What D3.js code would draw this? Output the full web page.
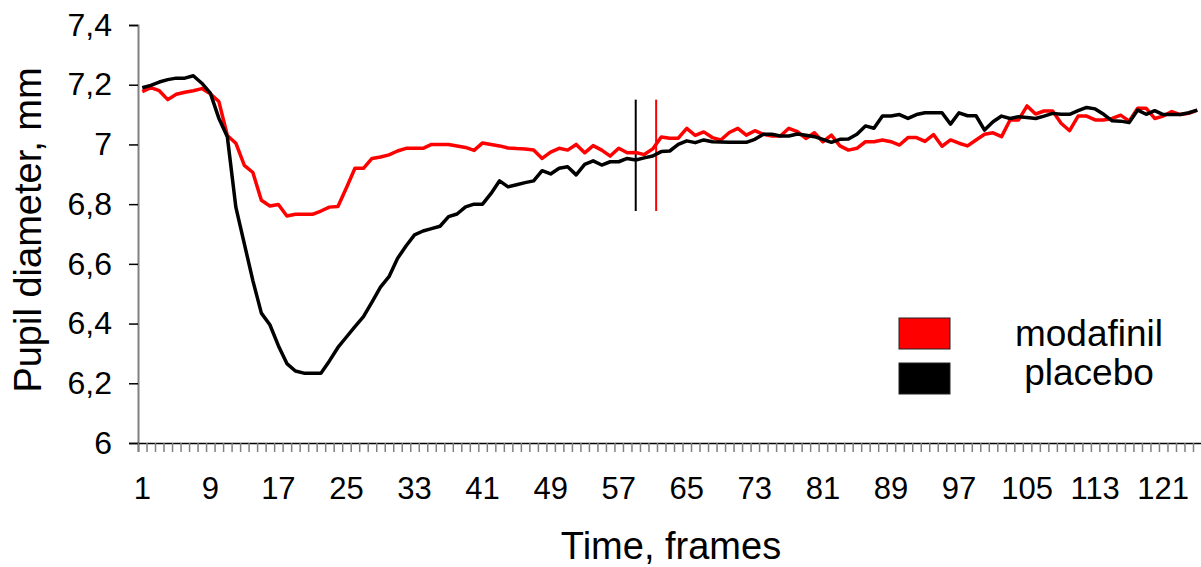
<!DOCTYPE html>
<html>
<head>
<meta charset="utf-8">
<script src="https://cdn.jsdelivr.net/npm/d3@7"></script>
<style>
    body { margin: 0; background: #fff; }
    svg { display: block; font-family: "Liberation Sans", Arial, sans-serif; }
</style>
</head>
<body>
<div id="chart"></div>
<script>
// Datos: diámetro pupilar por frame (1..125)
var frames = d3.range(1, 126);

var modafinil = [
    7.177, 7.19, 7.18, 7.15, 7.168, 7.175, 7.18, 7.187, 7.17, 7.144,
    7.03, 7.004, 6.93, 6.906, 6.813, 6.794, 6.799, 6.76, 6.766, 6.766,
    6.766, 6.777, 6.79, 6.792, 6.855, 6.92, 6.92, 6.953, 6.958, 6.965,
    6.978, 6.987, 6.987, 6.987, 7.0, 7.0, 7.0, 6.995, 6.99, 6.98,
    7.005, 7.0, 6.995, 6.988, 6.986, 6.985, 6.981, 6.953, 6.974, 6.987,
    6.981, 7.0, 6.972, 6.996, 6.981, 6.961, 6.987, 6.972, 6.973, 6.966,
    6.985, 7.025, 7.021, 7.021, 7.054, 7.03, 7.042, 7.023, 7.015, 7.04,
    7.054, 7.031, 7.046, 7.034, 7.028, 7.028, 7.054, 7.043, 7.02, 7.039,
    7.009, 7.031, 6.995, 6.981, 6.987, 7.009, 7.009, 7.015, 7.009, 6.998,
    7.023, 7.023, 7.01, 7.033, 6.994, 7.015, 7.004, 6.995, 7.015, 7.034,
    7.039, 7.026, 7.082, 7.082, 7.129, 7.102, 7.112, 7.112, 7.071, 7.046,
    7.095, 7.095, 7.082, 7.082, 7.087, 7.098, 7.078, 7.121, 7.121, 7.087,
    7.095, 7.11, 7.1, 7.104, 7.115
];

var placebo = [
    7.19, 7.198, 7.209, 7.217, 7.222, 7.222, 7.23, 7.205, 7.172, 7.088,
    7.026, 6.79, 6.667, 6.544, 6.435, 6.396, 6.326, 6.266, 6.241, 6.234,
    6.234, 6.234, 6.275, 6.32, 6.355, 6.39, 6.423, 6.472, 6.522, 6.557,
    6.618, 6.66, 6.697, 6.71, 6.718, 6.726, 6.758, 6.767, 6.791, 6.8,
    6.8, 6.836, 6.878, 6.858, 6.865, 6.872, 6.878, 6.912, 6.901, 6.92,
    6.925, 6.898, 6.933, 6.945, 6.931, 6.942, 6.942, 6.953, 6.948, 6.955,
    6.961, 6.976, 6.978, 7.0, 7.012, 7.006, 7.015, 7.009, 7.008, 7.007,
    7.007, 7.007, 7.017, 7.034, 7.034, 7.028, 7.028, 7.035, 7.031, 7.026,
    7.017, 7.007, 7.017, 7.018, 7.034, 7.062, 7.054, 7.095, 7.095, 7.1,
    7.087, 7.1, 7.106, 7.106, 7.106, 7.068, 7.106, 7.096, 7.096, 7.048,
    7.076, 7.095, 7.087, 7.093, 7.09, 7.087, 7.095, 7.104, 7.101, 7.101,
    7.113, 7.124, 7.119, 7.101, 7.079, 7.078, 7.073, 7.115, 7.101, 7.113,
    7.1, 7.1, 7.1, 7.106, 7.115
];

// Marcas verticales (frame de recuperación de cada grupo)
var markerFrames = [59, 61.4];
var markerColors = ["#000000", "#ff0000"];
var markerRange = [6.777, 7.15];

// Ejes
var yTicks = [6, 6.2, 6.4, 6.6, 6.8, 7, 7.2, 7.4];
var xLabelFrames = [1, 9, 17, 25, 33, 41, 49, 57, 65, 73, 81, 89, 97, 105, 113, 121];

var seriesNames = ["modafinil", "placebo"];
var seriesColors = ["#ff0000", "#000000"];

var width = 1201, height = 567;
var plotLeft = 138, plotTop = 25, plotBottom = 443;
var step = 8.508;

var svg = d3.select("#chart").append("svg")
    .attr("width", width)
    .attr("height", height);

var x = d3.scaleLinear()
    .domain([0.5, frames.length + 0.5])
    .range([plotLeft, plotLeft + frames.length * step]);

var y = d3.scaleLinear()
    .domain([6, 7.4])
    .range([plotBottom, plotTop]);

// Eje Y
var yAxis = svg.append("g")
    .attr("transform", "translate(" + plotLeft + ",0)")
    .call(d3.axisLeft(y).tickValues(yTicks).tickSize(9).tickPadding(17)
        .tickFormat(function (d) { return d3.format("~g")(d).replace(".", ","); }));
yAxis.select(".domain").attr("stroke", "#808080").attr("stroke-width", 2);
yAxis.selectAll(".tick line").attr("stroke", "#000").attr("stroke-width", 1.5);
yAxis.selectAll(".tick text")
    .attr("font-size", 32)
    .attr("fill", "#000")
    .attr("font-family", "Liberation Sans, Arial, sans-serif");

// Eje X: marcas en los límites de cada categoría
var boundaries = d3.range(0, frames.length + 1).map(function (i) { return i + 0.5; });
var xAxis = svg.append("g")
    .attr("transform", "translate(0," + plotBottom + ")")
    .call(d3.axisBottom(x).tickValues(boundaries).tickSize(9).tickFormat(""));
xAxis.select(".domain").attr("stroke", "#000").attr("stroke-width", 1.5);
xAxis.selectAll(".tick line").attr("stroke", "#808080").attr("stroke-width", 1.5);

svg.append("g").selectAll("text")
    .data(xLabelFrames)
    .enter().append("text")
    .attr("x", function (d) { return x(d); })
    .attr("y", 499)
    .attr("text-anchor", "middle")
    .attr("font-size", 31)
    .text(function (d) { return d; });

// Títulos de los ejes
svg.append("text")
    .attr("x", 671)
    .attr("y", 559)
    .attr("text-anchor", "middle")
    .attr("font-size", 38)
    .text("Time, frames");

svg.append("text")
    .attr("transform", "translate(41,230) rotate(-90)")
    .attr("text-anchor", "middle")
    .attr("font-size", 38)
    .text("Pupil diameter, mm");

// Líneas verticales
svg.append("g").selectAll("line")
    .data(markerFrames)
    .enter().append("line")
    .attr("x1", function (d) { return x(d); })
    .attr("x2", function (d) { return x(d); })
    .attr("y1", y(markerRange[0]))
    .attr("y2", y(markerRange[1]))
    .attr("stroke", function (d, i) { return markerColors[i]; })
    .attr("stroke-width", 2);

// Series
var line = d3.line()
    .x(function (d, i) { return x(frames[i]); })
    .y(function (d) { return y(d); });

svg.append("g").selectAll("path")
    .data([modafinil, placebo])
    .enter().append("path")
    .attr("d", line)
    .attr("fill", "none")
    .attr("stroke", function (d, i) { return seriesColors[i]; })
    .attr("stroke-width", 3.5)
    .attr("stroke-linejoin", "round");

// Leyenda
var legend = svg.append("g");
legend.selectAll("rect")
    .data(seriesNames)
    .enter().append("rect")
    .attr("x", 899)
    .attr("y", function (d, i) { return 318 + i * 45; })
    .attr("width", 51)
    .attr("height", 31)
    .attr("fill", function (d, i) { return seriesColors[i]; })
    .attr("stroke", "#222")
    .attr("stroke-width", 1);

legend.selectAll("text")
    .data(seriesNames)
    .enter().append("text")
    .attr("x", 1089)
    .attr("y", function (d, i) { return 346 + i * 39; })
    .attr("text-anchor", "middle")
    .attr("font-size", 37)
    .text(function (d) { return d; });
</script>
</body>
</html>
